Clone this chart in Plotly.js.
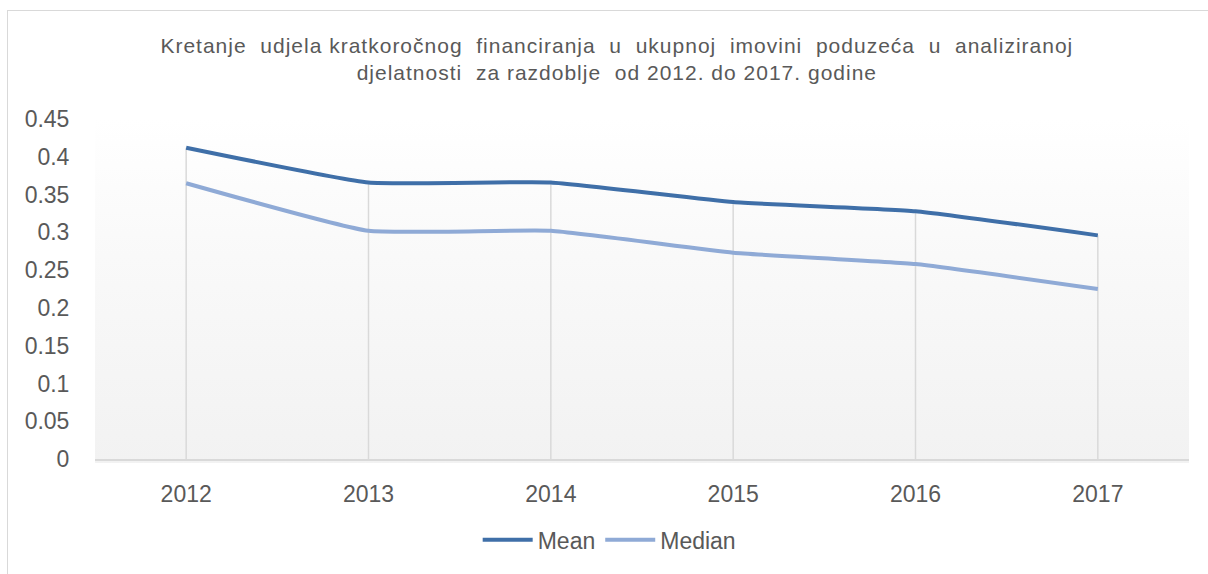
<!DOCTYPE html>
<html>
<head>
<meta charset="utf-8">
<script src="https://cdn.plot.ly/plotly-3.0.1.min.js"></script>
<style>
  html, body { margin: 0; padding: 0; background: #ffffff; overflow: hidden; }
  #bg { position: absolute; left: 95px; top: 119px; width: 1094px; height: 344px;
        background: linear-gradient(to bottom, #ffffff 0%, #f9f9f9 40%, #f2f2f2 100%); }
  #frame { position: absolute; left: 7px; top: 10px; width: 1210px; height: 580px;
           border: 1px solid #d9d9d9; pointer-events: none; }
  #chart { position: absolute; left: 0; top: 0; width: 1208px; height: 574px; }
  .gtitle { letter-spacing: 1px; }
</style>
</head>
<body>
<div id="bg"></div>
<div id="chart"></div>
<div id="frame"></div>
<script>
const years = ['2012', '2013', '2014', '2015', '2016', '2017'];
const meanValues = [0.412, 0.366, 0.366, 0.340, 0.328, 0.296];
const medianValues = [0.365, 0.302, 0.302, 0.273, 0.258, 0.225];
const yTicks = [0, 0.05, 0.1, 0.15, 0.2, 0.25, 0.3, 0.35, 0.4, 0.45];
const yTickLabels = ['0', '0.05', '0.1', '0.15', '0.2', '0.25', '0.3', '0.35', '0.4', '0.45'];
const titleText = 'Kretanje  udjela kratkoročnog  financiranja  u  ukupnoj  imovini  poduzeća  u  analiziranoj<br>djelatnosti  za razdoblje  od 2012. do 2017. godine';

// drop lines from axis to highest series at each category
const dropX = [], dropY = [];
years.forEach((y, i) => {
  dropX.push(y, y, null);
  dropY.push(0, Math.max(meanValues[i], medianValues[i]), null);
});

const font = "'Liberation Sans', Arial, sans-serif";

const traces = [
  { x: dropX, y: dropY, type: 'scatter', mode: 'lines',
    line: { color: '#d9d9d9', width: 1.5 }, hoverinfo: 'skip', showlegend: false },
  { x: years, y: meanValues, name: 'Mean', type: 'scatter', mode: 'lines',
    line: { color: '#3f6fa8', width: 4, shape: 'spline', smoothing: 0.4 } },
  { x: years, y: medianValues, name: 'Median', type: 'scatter', mode: 'lines',
    line: { color: '#8faad6', width: 4, shape: 'spline', smoothing: 0.4 } }
];

const layout = {
  width: 1208, height: 574,
  margin: { l: 95, r: 19, t: 119, b: 111 },
  paper_bgcolor: 'rgba(0,0,0,0)',
  plot_bgcolor: 'rgba(0,0,0,0)',
  font: { family: font, color: '#595959', size: 23 },
  title: {
    text: titleText,
    font: { family: font, size: 21, color: '#595959' },
    x: 0.477, xanchor: 'center', xref: 'paper',
    y: 1 - 53 / 574, yanchor: 'top', yref: 'container'
  },
  xaxis: {
    type: 'category', range: [-0.5, 5.5],
    showgrid: false, zeroline: false,
    showline: true, linecolor: '#d9d9d9', linewidth: 2,
    ticks: 'outside', ticklen: 13, tickcolor: 'rgba(0,0,0,0)',
    tickfont: { family: font, size: 23, color: '#595959' }
  },
  yaxis: {
    range: [0, 0.45], tickvals: yTicks, ticktext: yTickLabels,
    showgrid: false, zeroline: false, showline: false,
    ticks: 'outside', ticklen: 20, tickcolor: 'rgba(0,0,0,0)',
    tickfont: { family: font, size: 23, color: '#595959' }
  },
  legend: {
    orientation: 'h', x: 0.47, xanchor: 'center', y: -0.238, yanchor: 'middle',
    font: { family: font, size: 23, color: '#595959' },
    bgcolor: 'rgba(0,0,0,0)', itemwidth: 50
  },
  showlegend: true
};

Plotly.newPlot('chart', traces, layout, { displayModeBar: false, staticPlot: true });
</script>
</body>
</html>
